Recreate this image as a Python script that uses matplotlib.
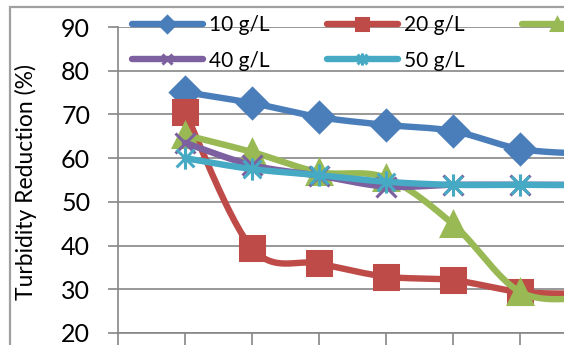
import numpy as np
import matplotlib.pyplot as plt
from matplotlib.patches import Rectangle
from matplotlib.path import Path

# data (the 7th point lies beyond the cropped edge)
x_pos = [1, 2, 3, 4, 5, 6, 7]
c10 = [75.1, 72.6, 69.4, 67.6, 66.2, 62.1, 61.0]
c20 = [70.6, 39.4, 35.9, 32.9, 32.1, 29.4, 29.0]
c30 = [65.3, 61.4, 56.8, 55.5, 44.9, 29.4, 28.0]
c40 = [63.5, 58.4, 56.0, 53.5, 53.9, 53.9, 53.9]
c50 = [60.0, 57.5, 56.1, 54.6, 53.9, 53.9, 53.8]
labels = ['10 g/L', '20 g/L', '30 g/L', '40 g/L', '50 g/L']

# Excel "star" marker: an x with a vertical bar through it
star = Path([(-1, -1), (1, 1), (-1, 1), (1, -1), (0, -1.25), (0, 1.25)],
            [Path.MOVETO, Path.LINETO] * 3)

colors = ['#4A7EBB', '#BE4B48', '#98B954', '#7D60A0', '#46AAC5']
markers = ['D', 's', '^', 'x', star]
msizes = [15, 17, 17, 14, 16]

plt.rcParams['font.family'] = ['Lato', 'DejaVu Sans']


def smooth(x, y, n=30):
    """Excel style smoothed line: Catmull-Rom segments as cubic Bezier."""
    pts = np.column_stack([x, y]).astype(float)
    ext = np.vstack([pts[0], pts, pts[-1]])
    out = []
    t = np.linspace(0, 1, n, endpoint=False)[:, None]
    for i in range(len(pts) - 1):
        p0, p1, p2, p3 = ext[i], ext[i + 1], ext[i + 2], ext[i + 3]
        c1 = p1 + (p2 - p0) / 6
        c2 = p2 - (p3 - p1) / 6
        seg = ((1 - t) ** 3 * p1 + 3 * (1 - t) ** 2 * t * c1
               + 3 * (1 - t) * t ** 2 * c2 + t ** 3 * p2)
        out.append(seg)
    out.append(pts[-1][None, :])
    out = np.vstack(out)
    return out[:, 0], out[:, 1], n


W, H = 564, 345
fig = plt.figure(figsize=(W / 100, H / 100), dpi=100)

# outer chart border (cropped on right / bottom)
fig.patches.append(Rectangle((10 / W, -0.2), 1.2, 1.2 - 7 / H,
                             transform=fig.transFigure, fill=False,
                             edgecolor='#A0A0A0', lw=1.6))

ax = fig.add_axes([118 / W, 12 / H, (W - 118) / W, (H - 12 - 27) / H])

lines = []
for ys, lab, col, mk, ms in zip([c10, c20, c30, c40, c50], labels, colors, markers, msizes):
    sx, sy, n = smooth(x_pos, ys)
    ln, = ax.plot(sx, sy, color=col, lw=4.6, marker=mk, markevery=n, ms=ms,
                  mfc=col, mec=col, mew=2.2, label=lab, solid_capstyle='round',
                  solid_joinstyle='round')
    lines.append(ln)

ax.set_xlim(0, (W - 118) / 67)
ax.set_ylim(20, 90)
ax.set_yticks(np.arange(20, 91, 10))
ax.set_xticks(np.arange(0, 7))
ax.set_xticklabels([])
ax.grid(axis='y', color='#868686', lw=1.2)
ax.set_axisbelow(True)
for s in ['top', 'right']:
    ax.spines[s].set_visible(False)
for s in ['left', 'bottom']:
    ax.spines[s].set_color('#868686')
    ax.spines[s].set_linewidth(1.2)
ax.tick_params(axis='y', length=7, width=1.2, color='#868686', labelsize=18, pad=13)
ax.tick_params(axis='x', length=9, width=1.2, color='#868686')
ax.set_ylabel('Turbidity Reduction (%)', fontsize=16.5)
ax.yaxis.set_label_coords(-(118 - 37) / (W - 118), 0.495)

# legend fills by column, so order the handles to read row-wise
order = [0, 3, 1, 4, 2]
fig.legend([lines[i] for i in order], [labels[i] for i in order],
           loc='upper left', bbox_to_anchor=(132 / W, 1 - 15 / H), ncol=3,
           frameon=False, borderpad=0, borderaxespad=0, fontsize=15,
           handlelength=3.4, handletextpad=0.3, columnspacing=2.75,
           labelspacing=0.75, markerscale=0.55)

fig.savefig('out.png', dpi=100)
